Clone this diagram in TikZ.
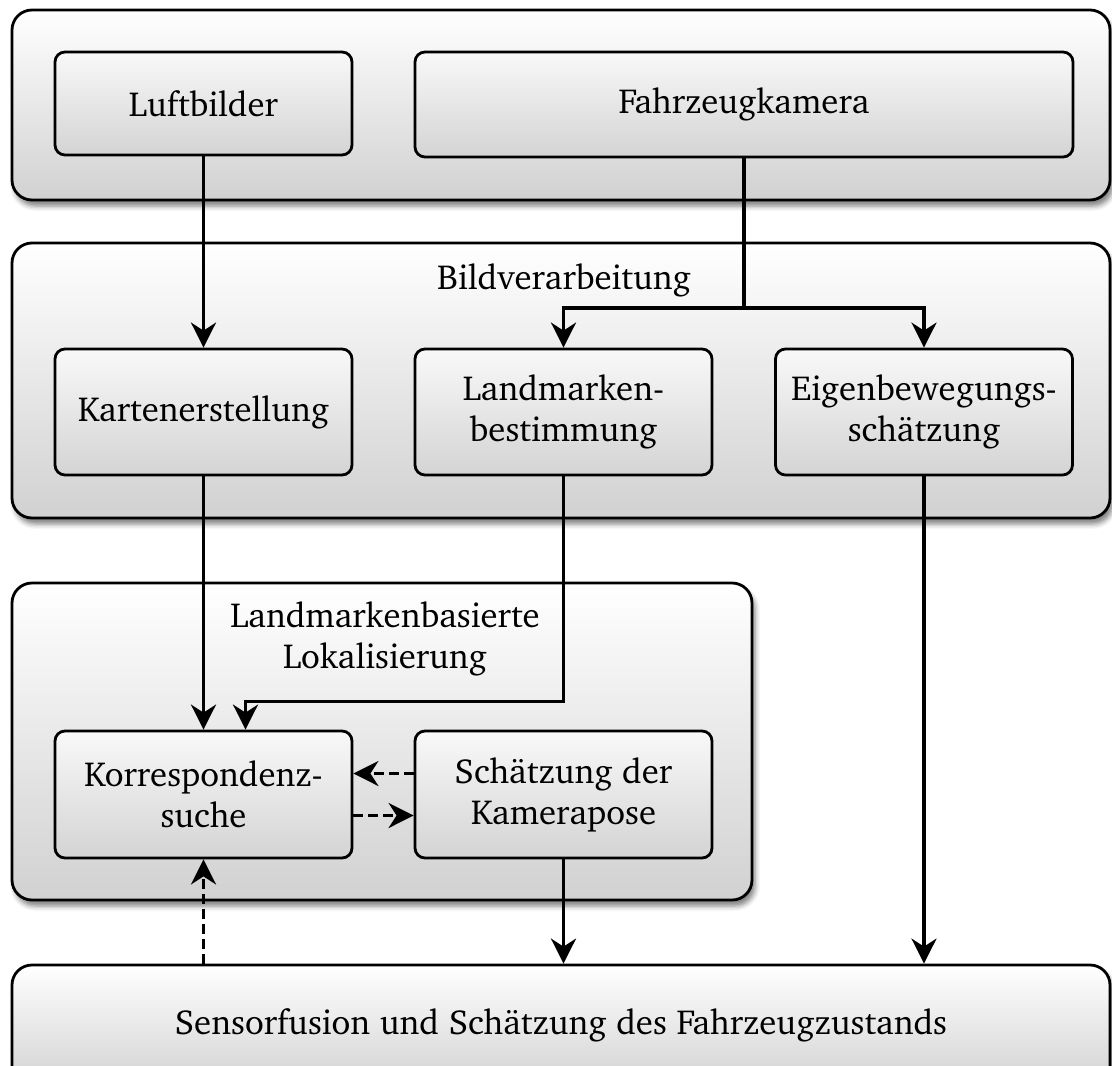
\documentclass[tikz,border=0pt]{standalone}
\usepackage[T1]{fontenc}
\usepackage{charter}
\usetikzlibrary{arrows.meta,shadows.blur,calc}
\tikzset{
  outerbox/.style={draw, line width=2.8pt, rounded corners=20pt, top color=white, bottom color=gray!36,
    minimum width=1098pt, blur shadow={shadow xshift=3pt, shadow yshift=-6pt, shadow blur radius=5pt, shadow opacity=50}},
  innerbox/.style={draw, line width=2.8pt, rounded corners=10pt, top color=gray!5, bottom color=gray!34,
    minimum width=297pt, minimum height=126pt, align=center},
  lbl/.style={align=center},
  arr/.style={line width=3.3pt, -{Stealth[length=25pt, width=25pt, inset=8pt]}},
  darr/.style={arr, dash pattern=on 10pt off 5pt},
}
\begin{document}
\begin{tikzpicture}[x=1pt, y=-1pt, font=\fontsize{34.8}{41}\selectfont, inner sep=0pt]
\useasboundingbox (0,0) rectangle (1112,1066);
% outer boxes
\node[outerbox, minimum height=190pt] (top) at (561,105) {};
\node[outerbox, minimum height=275pt] (bv) at (561,380.5) {};
\node[outerbox, minimum width=740pt, minimum height=317pt] (lok) at (382,741.5) {};
\node[outerbox, minimum height=124pt] (sf) at (561,1027) {\raisebox{11pt}{Sensorfusion und Sch\"atzung des Fahrzeugzustands}};
% labels
\node[lbl] (bvl) at (564,280) {Bildverarbeitung};
\node[lbl] (lokl) at (385,639) {Landmarkenbasierte\\Lokalisierung};
% inner boxes
\node[innerbox, minimum height=103pt] (lb) at (203.5,103.5) {Luftbilder};
\node[innerbox, minimum width=658pt, minimum height=105pt] (fk) at (744,104.5) {Fahrzeugkamera};
\node[innerbox] (ke) at (203.5,412) {Kartenerstellung};
\node[innerbox] (lm) at (563.5,412) {Landmarken-\\bestimmung};
\node[innerbox] (eb) at (924,412) {Eigenbewegungs-\\sch\"atzung};
\node[innerbox, minimum height=127pt] (ks) at (203.5,794.5) {Korrespondenz-\\suche};
\node[innerbox, minimum height=127pt] (sk) at (563.5,794.5) {Sch\"atzung der\\Kamerapose};
% connectors
\coordinate (split) at (fk.south |- 0,308);
\draw[arr] (lb.south) -- (ke.north);
\draw[line width=3.3pt] (fk.south) -- (split);
\draw[arr] (split) -| (lm.north);
\draw[arr] (split) -| (eb.north);
\draw[arr] (ke.south) -- (ks.north);
\coordinate (kin) at ([xshift=42pt]ks.north);
\draw[arr] (lm.south) -- ++(0,225) -| (kin);
\draw[arr] (eb.south) -- (eb.south |- sf.north);
\draw[arr] (sk.south) -- (sk.south |- sf.north);
\draw[darr] ([yshift=21pt]sk.west) -- ([yshift=21pt]ks.east);
\draw[darr] ([yshift=-21pt]ks.east) -- ([yshift=-21pt]sk.west);
\draw[darr] (ks.south |- sf.north) -- (ks.south);
\end{tikzpicture}
\end{document}
